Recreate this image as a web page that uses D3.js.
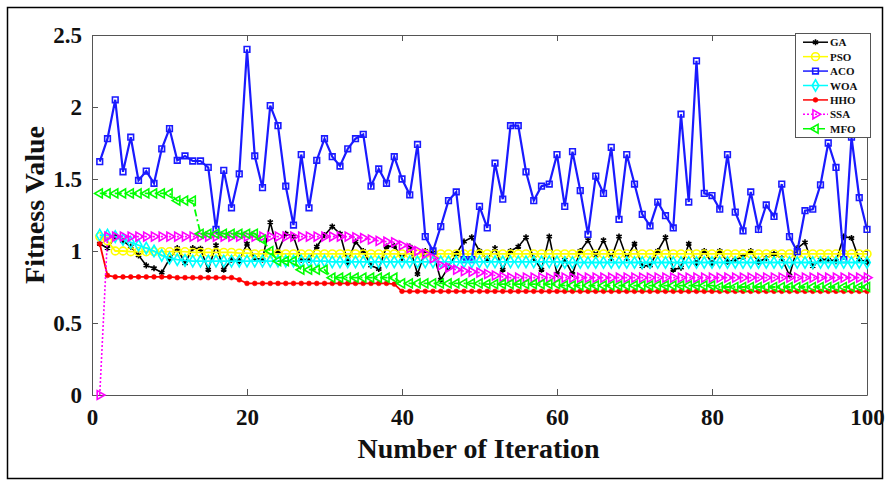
<!DOCTYPE html>
<html>
<head>
<meta charset="utf-8">
<script src="https://cdn.jsdelivr.net/npm/d3@7"></script>
<style>
  body { margin: 0; background: #fff; }
  svg { display: block; }
  text { font-family: "Liberation Serif", "Times New Roman", serif; font-weight: bold; }
</style>
</head>
<body>
<svg id="chart"></svg>
<script>
var xTicks = [0, 20, 40, 60, 80, 100];
var yTicks = [0, 0.5, 1, 1.5, 2, 2.5];
var seriesNames = ["GA", "PSO", "ACO", "WOA", "HHO", "SSA", "MFO"];

var gaValues = [
  1.05, 1.02, 1.10, 1.07, 1.03, 0.97, 0.90, 0.88, 0.85, 0.945,
  1.02, 0.915, 1.02, 1.015, 0.87, 1.04, 0.87, 0.94, 0.93, 1.05,
  0.95, 0.94, 1.20, 0.995, 1.12, 1.10, 0.94, 0.94, 1.03, 1.11,
  1.17, 1.12, 0.92, 1.065, 1.00, 0.90, 0.875, 1.03, 1.035, 0.95,
  1.03, 0.84, 1.00, 0.99, 0.80, 0.89, 0.98, 1.065, 1.095, 1.00,
  0.94, 1.02, 0.87, 1.00, 1.03, 1.095, 0.95, 0.87, 1.10, 0.84,
  0.94, 0.84, 1.00, 1.075, 0.97, 1.075, 0.95, 1.10, 0.95, 1.05,
  0.895, 0.90, 1.00, 1.095, 0.87, 0.885, 1.05, 0.915, 1.00, 0.915,
  1.00, 0.925, 0.94, 0.96, 1.00, 0.925, 0.95, 0.98, 0.95, 0.83,
  1.02, 1.06, 0.895, 0.94, 0.94, 0.93, 1.10, 1.09, 0.94, 0.925
];
var psoValues = [
  1.10, 1.07, 1.00, 1.00, 0.995, 0.995, 0.995, 0.995, 0.995, 0.995,
  0.995, 0.995, 0.99, 0.99, 0.99, 0.99, 0.99, 0.99, 0.985, 0.985,
  0.98, 0.98, 0.98, 0.98, 0.98, 0.98, 0.98, 0.98, 0.98, 0.98,
  0.98, 0.98, 0.98, 0.98, 0.98, 0.98, 0.98, 0.98, 0.98, 0.98,
  0.98, 0.98, 0.98, 0.98, 0.98, 0.98, 0.98, 0.98, 0.98, 0.98,
  0.98, 0.98, 0.98, 0.98, 0.98, 0.98, 0.98, 0.98, 0.98, 0.98,
  0.98, 0.98, 0.98, 0.98, 0.98, 0.98, 0.98, 0.98, 0.98, 0.98,
  0.98, 0.98, 0.98, 0.98, 0.98, 0.98, 0.98, 0.98, 0.98, 0.98,
  0.98, 0.98, 0.98, 0.98, 0.98, 0.98, 0.98, 0.98, 0.98, 0.98,
  0.98, 0.98, 0.98, 0.98, 0.98, 0.98, 0.98, 0.98, 0.98, 0.98
];
var acoValues = [
  1.62, 1.78, 2.05, 1.55, 1.79, 1.49, 1.555, 1.47, 1.71, 1.85,
  1.63, 1.66, 1.625, 1.625, 1.58, 1.15, 1.56, 1.30, 1.535, 2.40,
  1.66, 1.44, 2.01, 1.87, 1.45, 1.18, 1.67, 1.30, 1.63, 1.78,
  1.655, 1.59, 1.71, 1.78, 1.81, 1.45, 1.57, 1.47, 1.655, 1.50,
  1.39, 1.74, 1.10, 1.00, 1.17, 1.35, 1.41, 0.94, 0.94, 1.31,
  1.16, 1.61, 1.36, 1.87, 1.87, 1.55, 1.35, 1.45, 1.465, 1.67,
  1.31, 1.69, 1.42, 1.115, 1.52, 1.40, 1.72, 1.22, 1.67, 1.465,
  1.255, 1.175, 1.34, 1.245, 1.16, 1.95, 1.34, 2.32, 1.40, 1.385,
  1.29, 1.67, 1.27, 1.14, 1.41, 1.15, 1.32, 1.24, 1.465, 1.10,
  0.995, 1.28, 1.29, 1.46, 1.75, 1.58, 0.94, 1.79, 1.37, 1.15
];
var woaValues = [
  1.11, 1.11, 1.10, 1.08, 1.06, 1.04, 1.02, 1.00, 0.97, 0.95,
  0.94, 0.935, 0.93, 0.93, 0.93, 0.93, 0.93, 0.93, 0.93, 0.93,
  0.93, 0.93, 0.93, 0.93, 0.93, 0.93, 0.93, 0.93, 0.93, 0.93,
  0.925, 0.925, 0.925, 0.925, 0.925, 0.925, 0.925, 0.925, 0.925, 0.925,
  0.925, 0.925, 0.925, 0.925, 0.925, 0.925, 0.925, 0.925, 0.925, 0.925,
  0.925, 0.925, 0.925, 0.925, 0.925, 0.925, 0.925, 0.925, 0.925, 0.925,
  0.92, 0.92, 0.92, 0.92, 0.92, 0.92, 0.92, 0.92, 0.92, 0.92,
  0.92, 0.92, 0.92, 0.92, 0.92, 0.92, 0.92, 0.92, 0.92, 0.92,
  0.92, 0.92, 0.92, 0.92, 0.92, 0.92, 0.92, 0.92, 0.92, 0.92,
  0.92, 0.92, 0.92, 0.92, 0.92, 0.92, 0.92, 0.92, 0.92, 0.92
];
var hhoValues = [
  1.05, 0.83, 0.82, 0.82, 0.82, 0.82, 0.82, 0.82, 0.82, 0.82,
  0.815, 0.815, 0.815, 0.815, 0.815, 0.815, 0.815, 0.815, 0.80, 0.775,
  0.775, 0.775, 0.775, 0.775, 0.775, 0.775, 0.775, 0.775, 0.775, 0.775,
  0.775, 0.775, 0.775, 0.775, 0.775, 0.775, 0.775, 0.775, 0.77, 0.72,
  0.72, 0.72, 0.72, 0.72, 0.72, 0.72, 0.72, 0.72, 0.72, 0.72,
  0.72, 0.72, 0.72, 0.72, 0.72, 0.72, 0.72, 0.72, 0.72, 0.72,
  0.72, 0.72, 0.72, 0.72, 0.72, 0.72, 0.72, 0.72, 0.72, 0.72,
  0.72, 0.72, 0.72, 0.72, 0.72, 0.72, 0.72, 0.72, 0.72, 0.72,
  0.72, 0.72, 0.72, 0.72, 0.72, 0.72, 0.72, 0.72, 0.72, 0.72,
  0.72, 0.72, 0.72, 0.72, 0.72, 0.72, 0.72, 0.72, 0.72, 0.72
];
var ssaValues = [
  0.00, 1.10, 1.10, 1.10, 1.10, 1.10, 1.10, 1.10, 1.10, 1.10,
  1.10, 1.10, 1.10, 1.10, 1.10, 1.10, 1.10, 1.10, 1.10, 1.10,
  1.10, 1.10, 1.10, 1.10, 1.10, 1.10, 1.10, 1.10, 1.10, 1.10,
  1.10, 1.10, 1.10, 1.095, 1.09, 1.08, 1.07, 1.065, 1.06, 1.04,
  1.02, 1.00, 0.98, 0.95, 0.90, 0.885, 0.87, 0.86, 0.855, 0.85,
  0.84, 0.83, 0.82, 0.815, 0.815, 0.815, 0.815, 0.815, 0.815, 0.815,
  0.815, 0.815, 0.815, 0.815, 0.815, 0.815, 0.815, 0.815, 0.815, 0.815,
  0.815, 0.815, 0.815, 0.815, 0.815, 0.815, 0.815, 0.815, 0.815, 0.815,
  0.815, 0.815, 0.815, 0.815, 0.815, 0.815, 0.815, 0.815, 0.815, 0.815,
  0.815, 0.815, 0.815, 0.815, 0.815, 0.815, 0.815, 0.815, 0.815, 0.815
];
var mfoValues = [
  1.40, 1.40, 1.40, 1.40, 1.40, 1.40, 1.40, 1.40, 1.40, 1.40,
  1.35, 1.35, 1.35, 1.12, 1.12, 1.12, 1.12, 1.12, 1.12, 1.12,
  1.12, 1.08, 1.00, 0.93, 0.93, 0.93, 0.87, 0.87, 0.87, 0.87,
  0.815, 0.815, 0.815, 0.815, 0.815, 0.815, 0.815, 0.815, 0.815, 0.775,
  0.775, 0.775, 0.775, 0.775, 0.775, 0.775, 0.775, 0.775, 0.775, 0.775,
  0.77, 0.77, 0.77, 0.77, 0.77, 0.77, 0.77, 0.77, 0.77, 0.77,
  0.76, 0.76, 0.76, 0.76, 0.76, 0.76, 0.76, 0.76, 0.76, 0.76,
  0.76, 0.76, 0.76, 0.76, 0.76, 0.76, 0.76, 0.76, 0.76, 0.76,
  0.75, 0.75, 0.75, 0.75, 0.75, 0.75, 0.75, 0.75, 0.75, 0.75,
  0.75, 0.75, 0.75, 0.75, 0.75, 0.75, 0.75, 0.75, 0.75, 0.75
];

var W = 889, H = 482;
var margin = {left: 92, right: 22, top: 35, bottom: 87};

// styles per series, drawn in this order
var styles = [
  {values: gaValues,  color: "#000000", dash: null,      symbol: d3.symbolAsterisk || d3.symbolCross, size: 26, fill: false, rot: 0,   width: 1.6},
  {values: psoValues, color: "#ffff00", dash: null,      symbol: d3.symbolCircle,   size: 48, fill: false, rot: 0,   width: 1.8},
  {values: acoValues, color: "#1a1aff", dash: null,      symbol: d3.symbolSquare,   size: 32, fill: false, rot: 0,   width: 2.2},
  {values: woaValues, color: "#00ffff", dash: null,      symbol: d3.symbolDiamond,  size: 38, fill: false, rot: 0,   width: 1.8},
  {values: hhoValues, color: "#ff0000", dash: null,      symbol: d3.symbolCircle,   size: 18, fill: true,  rot: 0,   width: 1.8},
  {values: ssaValues, color: "#ff00ff", dash: "2,2",     symbol: d3.symbolTriangle, size: 34, fill: false, rot: 90,  width: 1.6},
  {values: mfoValues, color: "#00ff00", dash: "7,3,2,3", symbol: d3.symbolTriangle, size: 34, fill: false, rot: -90, width: 1.8}
];

var svg = d3.select("#chart").attr("width", W).attr("height", H);

// outer figure frame
svg.append("rect")
  .attr("x", 7.5).attr("y", 7.5)
  .attr("width", 875).attr("height", 471)
  .attr("fill", "none").attr("stroke", "#000").attr("stroke-width", 1.5);

var xScale = d3.scaleLinear().domain([0, 100]).range([margin.left, W - margin.right]);
var yScale = d3.scaleLinear().domain([0, 2.5]).range([H - margin.bottom, margin.top]);

// axes, ticks pointing inward like matlab
function styleAxis(g) {
  g.selectAll("path.domain").attr("stroke", "#555").attr("stroke-width", 1);
  g.selectAll(".tick line").attr("stroke", "#555");
  g.selectAll("text").attr("fill", "#111").style("font-size", "23px")
    .style("font-family", "'Liberation Serif', serif").style("font-weight", "bold");
}

svg.append("g")
  .attr("transform", "translate(0," + yScale(0) + ")")
  .call(d3.axisBottom(xScale).tickValues(xTicks).tickSizeInner(-6).tickSizeOuter(0).tickPadding(14))
  .call(styleAxis);

svg.append("g")
  .attr("transform", "translate(0," + yScale(2.5) + ")")
  .call(d3.axisTop(xScale).tickValues(xTicks).tickSizeInner(-6).tickSizeOuter(0).tickFormat(""))
  .call(styleAxis);

svg.append("g")
  .attr("transform", "translate(" + xScale(0) + ",0)")
  .call(d3.axisLeft(yScale).tickValues(yTicks).tickSizeInner(-6).tickSizeOuter(0).tickPadding(10).tickFormat(d3.format("")))
  .call(styleAxis);

svg.append("g")
  .attr("transform", "translate(" + xScale(100) + ",0)")
  .call(d3.axisRight(yScale).tickValues(yTicks).tickSizeInner(-6).tickSizeOuter(0).tickFormat(""))
  .call(styleAxis);

// axis titles
svg.append("text")
  .attr("x", (xScale(0) + xScale(100)) / 2 - 1)
  .attr("y", 458)
  .attr("text-anchor", "middle")
  .style("font-size", "28px")
  .attr("fill", "#111")
  .text("Number of Iteration");

svg.append("text")
  .attr("transform", "translate(44," + 205 + ") rotate(-90)")
  .attr("text-anchor", "middle")
  .style("font-size", "28px")
  .attr("fill", "#111")
  .text("Fitness Value");

var lineGen = d3.line()
  .x(function(d, i) { return xScale(i + 1); })
  .y(function(d) { return yScale(d); });

var plot = svg.append("g");

function drawMarkers(g, s, points) {
  var sym = d3.symbol().type(s.symbol).size(s.size);
  g.selectAll("path.mk")
    .data(points)
    .enter()
      .append("path")
      .attr("class", "mk")
      .attr("d", sym)
      .attr("transform", function(p) { return "translate(" + p[0] + "," + p[1] + ") rotate(" + s.rot + ")"; })
      .attr("fill", s.fill ? s.color : "none")
      .attr("stroke", s.color)
      .attr("stroke-width", s.fill ? 0.6 : 1.6);
}

styles.forEach(function(s) {
  var g = plot.append("g");
  g.append("path")
    .datum(s.values)
    .attr("d", lineGen)
    .attr("fill", "none")
    .attr("stroke", s.color)
    .attr("stroke-width", s.width)
    .attr("stroke-dasharray", s.dash);
  var pts = s.values.map(function(v, i) { return [xScale(i + 1), yScale(v)]; });
  drawMarkers(g, s, pts);
});

// legend
var legX = 795, legY = 33;
var legend = svg.append("g");
legend.append("rect")
  .attr("x", legX + 0.5).attr("y", legY + 0.5)
  .attr("width", 75).attr("height", 104)
  .attr("fill", "#fff").attr("stroke", "#555").attr("stroke-width", 1);

var legScale = d3.scaleBand().domain(seriesNames).range([legY + 2, legY + 103]);

seriesNames.forEach(function(name, k) {
  var s = styles[k];
  var cy = legScale(name) + legScale.bandwidth() / 2;
  legend.append("line")
    .attr("x1", legX + 8).attr("x2", legX + 33)
    .attr("y1", cy).attr("y2", cy)
    .attr("stroke", s.color)
    .attr("stroke-width", 1.5)
    .attr("stroke-dasharray", s.dash);
  drawMarkers(legend.append("g"), s, [[legX + 20.5, cy]]);
  legend.append("text")
    .attr("x", legX + 35)
    .attr("y", cy + 4)
    .style("font-size", "11px")
    .attr("fill", "#111")
    .text(name);
});
</script>
</body>
</html>
